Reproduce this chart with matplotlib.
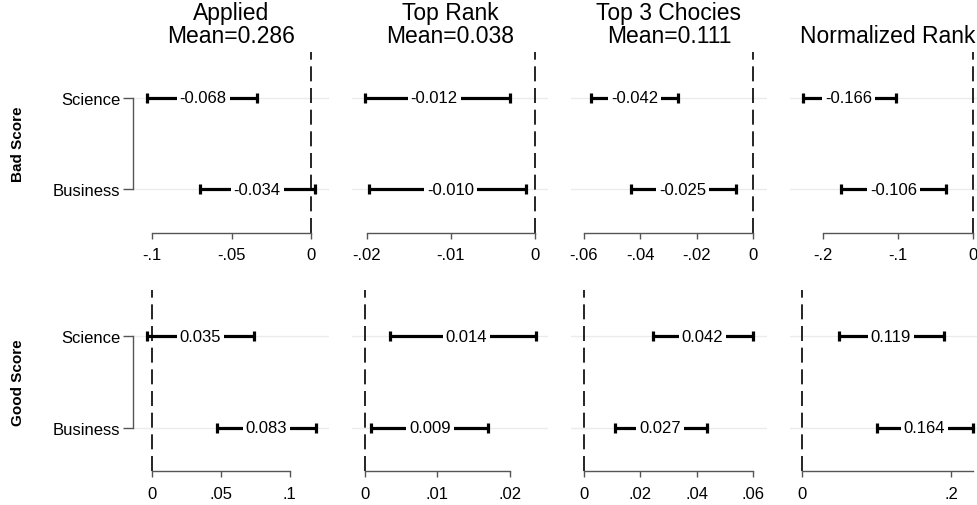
import matplotlib
matplotlib.use("Agg")
import matplotlib.pyplot as plt
import matplotlib.transforms as mtransforms

plt.rcParams['font.family'] = ['Liberation Sans', 'DejaVu Sans']
plt.rcParams['font.size'] = 12

titles = ["Applied\nMean=0.286", "Top Rank\nMean=0.038", "Top 3 Chocies\nMean=0.111", "Normalized Rank"]
groups = ["Bad Score", "Good Score"]
rows = ["Science", "Business"]

# estimates and 95% CI, one pair (Science, Business) per outcome
bad_est = [[-0.068, -0.034], [-0.012, -0.010], [-0.042, -0.025], [-0.166, -0.106]]
bad_lo = [[-0.103, -0.070], [-0.0202, -0.0197], [-0.0573, -0.0431], [-0.227, -0.176]]
bad_hi = [[-0.034, 0.0025], [-0.0030, -0.0010], [-0.0266, -0.0062], [-0.102, -0.036]]
good_est = [[0.035, 0.083], [0.014, 0.009], [0.042, 0.027], [0.119, 0.164]]
good_lo = [[-0.0036, 0.0472], [0.0035, 0.0009], [0.0243, 0.0111], [0.049, 0.100]]
good_hi = [[0.0739, 0.1189], [0.0235, 0.0169], [0.0598, 0.0435], [0.190, 0.229]]

bad_ticks = [[-0.1, -0.05, 0], [-0.02, -0.01, 0], [-0.06, -0.04, -0.02, 0], [-0.2, -0.1, 0]]
bad_ticklabels = [["-.1", "-.05", "0"], ["-.02", "-.01", "0"], ["-.06", "-.04", "-.02", "0"], ["-.2", "-.1", "0"]]
good_ticks = [[0, 0.05, 0.1], [0, 0.01, 0.02], [0, 0.02, 0.04, 0.06], [0, 0.2]]
good_ticklabels = [["0", ".05", ".1"], ["0", ".01", ".02"], ["0", ".02", ".04", ".06"], ["0", ".2"]]

bad_xlim = [(-0.1119, 0.0113), (-0.0218, 0.0016), (-0.0646, 0.005), (-0.2443, 0.0174)]
good_xlim = [(-0.014, 0.129), (-0.00176, 0.02526), (-0.0047, 0.0649), (-0.0172, 0.2464)]
bad_axis = [(-0.1, 0), (-0.02, 0), (-0.06, 0), (-0.2, 0)]
good_axis = [(0, 0.1), (0, 0.02), (0, 0.06), (0, 0.229)]

data = [
    (bad_est, bad_lo, bad_hi, bad_ticks, bad_ticklabels, bad_xlim, bad_axis),
    (good_est, good_lo, good_hi, good_ticks, good_ticklabels, good_xlim, good_axis),
]

fig, axes = plt.subplots(2, 4, figsize=(9.78, 5.06), dpi=100)
fig.subplots_adjust(left=133 / 978, right=986 / 978, top=1 - 53 / 506, bottom=1 - 472 / 506,
                    wspace=0.114, hspace=0.321)

ypos = [1, 2]
axcol = "#555555"

for r in range(2):
    est, lo, hi, ticks, tlabels, xlims, arange = data[r]
    for c in range(4):
        ax = axes[r, c]
        ax.set_xlim(*xlims[c])
        ax.set_ylim(2.47, 0.5)
        ax.set_yticks(ypos)
        ax.grid(axis='y', color="#ebebeb", lw=1)
        ax.set_axisbelow(True)
        ax.axvline(0, color='black', lw=1.2, ls=(0, (9, 4)), zorder=2)

        e, l, h = est[c], lo[c], hi[c]
        xerr = [[e[i] - l[i] for i in range(2)], [h[i] - e[i] for i in range(2)]]
        ax.errorbar(e, ypos, xerr=xerr, fmt='none', ecolor='black', elinewidth=2.3,
                    capsize=3.8, capthick=2.3, zorder=3)
        for i in range(2):
            ax.text(e[i], ypos[i], f"{e[i]:.3f}", ha='center', va='center', fontsize=12,
                    zorder=4, bbox=dict(boxstyle='square,pad=0.18', fc='white', ec='none'))

        ax.set_xticks(ticks[c])
        ax.set_xticklabels(tlabels[c])
        ax.spines['top'].set_visible(False)
        ax.spines['right'].set_visible(False)
        ax.spines['bottom'].set_bounds(*arange[c])
        ax.spines['bottom'].set_color(axcol)
        ax.spines['bottom'].set_linewidth(1)
        ax.tick_params(axis='x', length=4.5, width=1, color=axcol, pad=6, labelsize=12)

        if c == 0:
            ax.spines['left'].set_bounds(1, 2)
            ax.spines['left'].set_color(axcol)
            ax.spines['left'].set_linewidth(1)
            ax.set_yticklabels(rows)
            ax.tick_params(axis='y', length=7, width=1, color=axcol, pad=2, labelsize=12)
            tr = mtransforms.blended_transform_factory(fig.transFigure, ax.transData)
            ax.text(18 / 978, 1.5, groups[r], transform=tr, rotation=90, ha='center',
                    va='center', fontsize=11, fontweight='bold')
        else:
            ax.spines['left'].set_visible(False)
            ax.tick_params(axis='y', left=False, labelleft=False)

        if r == 0:
            ax.set_title(titles[c], fontsize=16.5, pad=7, linespacing=1.0)

fig.savefig("out.png", dpi=100)
